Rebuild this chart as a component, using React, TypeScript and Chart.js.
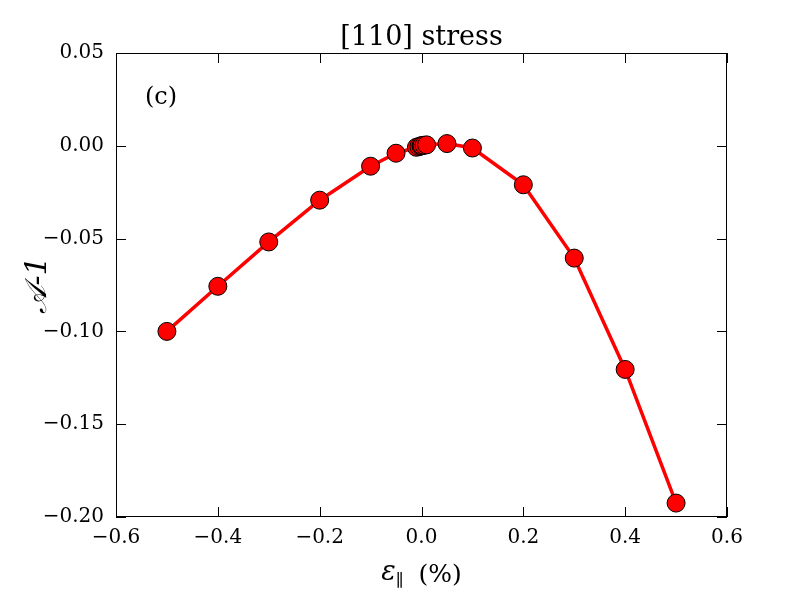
import { useEffect, useRef } from 'react';
import { Chart, registerables } from 'chart.js';

Chart.register(...registerables);

// strain (%) and A-1
const strain = [-0.5, -0.4, -0.3, -0.2, -0.1, -0.05, -0.01, -0.005, -0.001, 0, 0.001, 0.005, 0.01, 0.05, 0.1, 0.2, 0.3, 0.4, 0.5];
const anisoMinusOne = [-0.1, -0.0757, -0.0518, -0.0293, -0.011, -0.004, -0.0008, -0.0004, -0.0001, 0, 0.0001, 0.0003, 0.0005, 0.0012, -0.0012, -0.021, -0.0605, -0.1205, -0.1925];

const X_MIN = -0.6, X_MAX = 0.6, X_STEP = 0.2;
const Y_MIN = -0.2, Y_MAX = 0.05, Y_STEP = 0.05;

const SERIF = '"DejaVu Serif", "Liberation Serif", serif';
const minus = (s: string) => s.replace('-', '\u2212');

const framePlugin = {
  id: 'frame',
  afterDraw(chart: any) {
    const { ctx, chartArea: a, scales } = chart;
    ctx.save();
    ctx.strokeStyle = '#000';
    ctx.lineWidth = 1;
    ctx.strokeRect(a.left + 0.5, a.top + 0.5, a.right - a.left - 1, a.bottom - a.top - 1);
    const len = 10;
    ctx.beginPath();
    scales.x.ticks.forEach((t: any) => {
      const px = Math.round(scales.x.getPixelForValue(t.value)) + 0.5;
      ctx.moveTo(px, a.bottom); ctx.lineTo(px, a.bottom - len);
      ctx.moveTo(px, a.top); ctx.lineTo(px, a.top + len);
    });
    scales.y.ticks.forEach((t: any) => {
      const py = Math.round(scales.y.getPixelForValue(t.value)) + 0.5;
      ctx.moveTo(a.left, py); ctx.lineTo(a.left + len, py);
      ctx.moveTo(a.right, py); ctx.lineTo(a.right - len, py);
    });
    ctx.stroke();

    ctx.fillStyle = '#000';
    // title
    ctx.font = `27px ${SERIF}`;
    ctx.textAlign = 'center';
    ctx.textBaseline = 'alphabetic';
    ctx.fillText('[110] stress', (a.left + a.right) / 2, 45);
    // panel label
    ctx.font = `24px ${SERIF}`;
    ctx.textAlign = 'left';
    ctx.fillText('(c)', a.left + 29, 104);
    // x title: ε∥ (%)
    const cx = (a.left + a.right) / 2;
    const base = 582;
    ctx.font = `italic 27px ${SERIF}`;
    const wE = ctx.measureText('\u03b5').width;
    ctx.font = `17px ${SERIF}`;
    const wP = ctx.measureText('\u2225').width;
    ctx.font = `25px ${SERIF}`;
    const wR = ctx.measureText('(%)').width;
    const gap = 15;
    let x0 = cx - (wE + wP + gap + wR) / 2;
    ctx.font = `italic 27px ${SERIF}`;
    ctx.fillText('\u03b5', x0, base - 2);
    x0 += wE;
    ctx.font = `17px ${SERIF}`;
    ctx.fillText('\u2225', x0, base + 4);
    x0 += wP + gap;
    ctx.font = `25px ${SERIF}`;
    ctx.fillText('(%)', x0, base);
    // y title
    ctx.translate(46, (a.top + a.bottom) / 2);
    ctx.rotate(-Math.PI / 2);
    ctx.textAlign = 'center';
    ctx.font = `italic 30px ${SERIF}`;
    ctx.fillText('\ud835\udc9c-1', 0, 0);
    ctx.restore();
  },
};

export default function App() {
  const canvasRef = useRef<HTMLCanvasElement>(null);

  useEffect(() => {
    document.body.style.margin = '0';
    if (!canvasRef.current) return;
    const chart = new Chart(canvasRef.current, {
      type: 'scatter',
      data: {
        datasets: [{
          data: strain.map((x, i) => ({ x, y: anisoMinusOne[i] })),
          showLine: true,
          borderColor: '#ff0000',
          borderWidth: 3.5,
          pointRadius: 9,
          pointBackgroundColor: '#ff0000',
          pointBorderColor: '#000',
          pointBorderWidth: 1,
        }],
      },
      options: {
        animation: false,
        responsive: false,
        devicePixelRatio: 1,
        layout: { padding: { left: 10, right: 73, top: 53, bottom: 0 } },
        plugins: { legend: { display: false }, tooltip: { enabled: false } },
        scales: {
          x: {
            type: 'linear',
            min: X_MIN,
            max: X_MAX,
            afterFit: (s: any) => { s.height = 83; },
            grid: { drawOnChartArea: false, drawTicks: false },
            border: { display: false },
            ticks: {
              stepSize: X_STEP,
              padding: 9,
              color: '#000',
              font: { family: SERIF, size: 20 },
              callback: (v: any) => minus(Number(v).toFixed(1)),
            },
          },
          y: {
            type: 'linear',
            min: Y_MIN,
            max: Y_MAX,
            afterFit: (s: any) => { s.width = 106; },
            grid: { drawOnChartArea: false, drawTicks: false },
            border: { display: false },
            ticks: {
              stepSize: Y_STEP,
              padding: 12,
              color: '#000',
              font: { family: SERIF, size: 20 },
              callback: (v: any) => minus(Number(v).toFixed(2)),
            },
          },
        },
      },
      plugins: [framePlugin],
    });
    return () => chart.destroy();
  }, []);

  return <canvas ref={canvasRef} width={800} height={600} style={{ display: 'block' }} />;
}
